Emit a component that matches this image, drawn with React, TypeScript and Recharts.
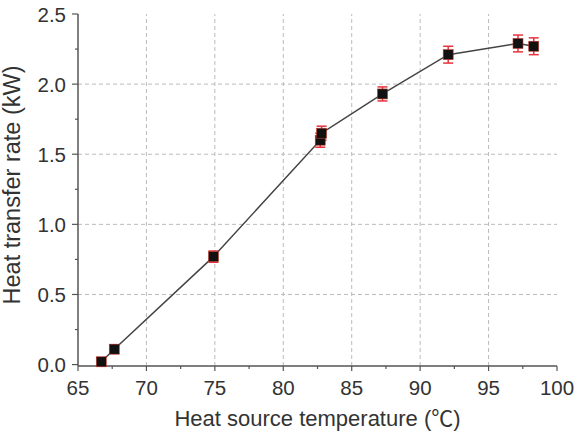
import React from 'react';
import {
  ComposedChart,
  Scatter,
  XAxis,
  YAxis,
  ErrorBar,
  ReferenceLine,
} from 'recharts';

// measured points, in the order the line joins them
const temps = [66.7, 67.65, 74.9, 82.7, 82.8, 87.25, 92.05, 97.15, 98.3];
const rates = [0.02, 0.11, 0.77, 1.6, 1.65, 1.93, 2.21, 2.29, 2.27];
const errors = [0.03, 0.03, 0.04, 0.05, 0.05, 0.05, 0.06, 0.06, 0.06];

const xTicks = [65, 67.5, 70, 72.5, 75, 77.5, 80, 82.5, 85, 87.5, 90, 92.5, 95, 97.5, 100];
const yTicks = [0, 0.25, 0.5, 0.75, 1, 1.25, 1.5, 1.75, 2, 2.25, 2.5];
const xGrid = [70, 75, 80, 85, 90, 95];
const yGrid = [0.5, 1, 1.5, 2];

const data = temps.map((t, i) => ({ t, q: rates[i], err: errors[i] }));

const FONT = '"Liberation Sans", Arial, sans-serif';
const CJK = '"Noto Sans CJK SC", sans-serif';
const AXIS = '#555';
const TEXT = '#333';

const isMajorX = (v: number) => v % 5 === 0;
const isMajorY = (v: number) => Math.abs(v * 2 - Math.round(v * 2)) < 1e-6;

const BottomTick = ({ x, y, payload }: any) => {
  const major = isMajorX(payload.value);
  return (
    <g>
      <line x1={x} x2={x} y1={y} y2={y + (major ? 5 : 3)} stroke={AXIS} strokeWidth={1.2} />
      {major && (
        <text x={x} y={y + 29} textAnchor="middle" fontSize={20.5} fill={TEXT} fontFamily={FONT}>
          {payload.value}
        </text>
      )}
    </g>
  );
};

const TopTick = ({ x, y, payload }: any) => {
  const major = isMajorX(payload.value);
  return <line x1={x} x2={x} y1={y} y2={y + (major ? 5 : 3)} stroke={AXIS} strokeWidth={1.2} />;
};

const LeftTick = ({ x, y, payload }: any) => {
  const major = isMajorY(payload.value);
  return (
    <g>
      <line x1={x} x2={x - (major ? 6 : 3)} y1={y} y2={y} stroke={AXIS} strokeWidth={1.2} />
      {major && (
        <text x={x - 12} y={y + 7.5} textAnchor="end" fontSize={20.5} fill={TEXT} fontFamily={FONT}>
          {payload.value.toFixed(1)}
        </text>
      )}
    </g>
  );
};

const RightTick = ({ x, y, payload }: any) => {
  const major = isMajorY(payload.value);
  return <line x1={x} x2={x - (major ? 5 : 3)} y1={y} y2={y} stroke={AXIS} strokeWidth={1.2} />;
};

const SquareDot = ({ cx, cy }: any) => (
  <rect x={cx - 5} y={cy - 5} width={10} height={10} fill="#111" stroke="#c0392b" strokeWidth={0.6} />
);

export default function App() {
  return (
    <div style={{ position: 'absolute', left: 0, top: 0, background: '#fff' }}>
      <ComposedChart width={574} height={432} margin={{ top: 14, right: 17, bottom: 0, left: 0 }}>
        {xGrid.map((v) => (
          <ReferenceLine key={'gx' + v} x={v} stroke="#bbb" strokeDasharray="4 3" />
        ))}
        {yGrid.map((v) => (
          <ReferenceLine key={'gy' + v} y={v} stroke="#bbb" strokeDasharray="4 3" />
        ))}
        <XAxis
          type="number"
          dataKey="t"
          domain={[65, 100]}
          ticks={xTicks}
          interval={0}
          height={66}
          tickSize={0}
          tickMargin={0}
          tickLine={false}
          tick={(p: any) => <BottomTick {...p} />}
          axisLine={{ stroke: AXIS, strokeWidth: 1.5 }}
          label={{
            position: 'center',
            content: ({ viewBox }: any) => (
              <text
                x={viewBox.x + viewBox.width / 2}
                y={426}
                textAnchor="middle"
                fontSize={22}
                fill={TEXT}
                fontFamily={FONT}
              >
                Heat source temperature (<tspan fontFamily={CJK}>℃</tspan>)
              </text>
            ),
          }}
        />
        <XAxis
          xAxisId="top"
          orientation="top"
          type="number"
          domain={[65, 100]}
          ticks={xTicks}
          interval={0}
          height={0}
          tickSize={0}
          tickMargin={0}
          tickLine={false}
          tick={(p: any) => <TopTick {...p} />}
          axisLine={{ stroke: AXIS, strokeWidth: 1.5 }}
        />
        <YAxis
          type="number"
          dataKey="q"
          domain={[0, 2.5]}
          ticks={yTicks}
          interval={0}
          width={78}
          tickSize={0}
          tickMargin={0}
          tickLine={false}
          tick={(p: any) => <LeftTick {...p} />}
          axisLine={{ stroke: AXIS, strokeWidth: 1.5 }}
          label={{
            position: 'center',
            content: () => {
              const cx = 12;
              const cy = 185;
              return (
                <text
                  x={cx}
                  y={cy}
                  transform={`rotate(-90, ${cx}, ${cy})`}
                  textAnchor="middle"
                  dominantBaseline="central"
                  fontSize={23.5}
                  fill={TEXT}
                  fontFamily={FONT}
                >
                  Heat transfer rate (kW)
                </text>
              );
            },
          }}
        />
        <YAxis
          yAxisId="right"
          orientation="right"
          type="number"
          domain={[0, 2.5]}
          ticks={yTicks}
          interval={0}
          width={0}
          tickSize={0}
          tickMargin={0}
          tickLine={false}
          tick={(p: any) => <RightTick {...p} />}
          axisLine={{ stroke: AXIS, strokeWidth: 1.5 }}
        />
        <Scatter
          data={data}
          dataKey="q"
          line={{ stroke: '#444', strokeWidth: 1.5 }}
          lineType="joint"
          shape={<SquareDot />}
          isAnimationActive={false}
        >
          <ErrorBar dataKey="err" direction="y" width={5} stroke="#e8323c" strokeWidth={1.5} />
        </Scatter>
      </ComposedChart>
    </div>
  );
}
